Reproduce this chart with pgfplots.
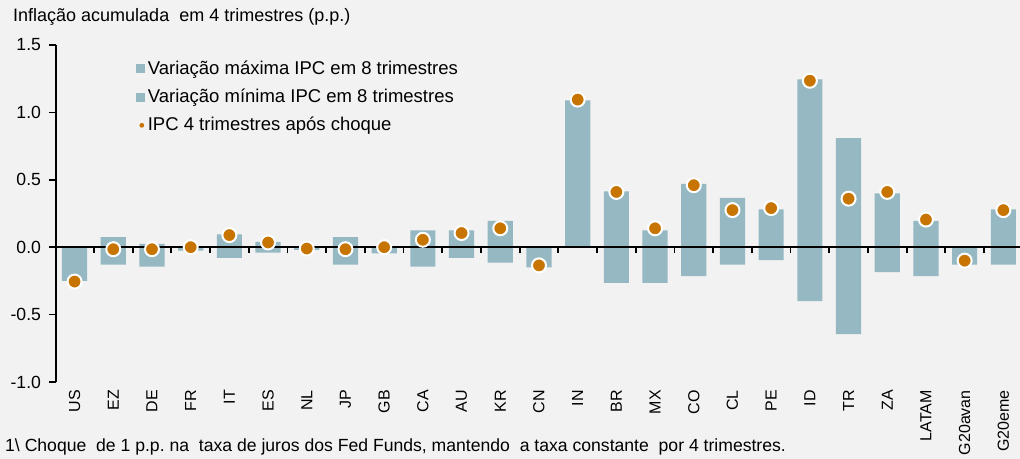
\documentclass[border=0pt]{standalone}
\usepackage{fontspec}
\setmainfont{Liberation Sans}
\usepackage{pgfplots}
\pgfplotsset{compat=1.18}
\usepackage{pgfplotstable}
\usetikzlibrary{backgrounds}
\definecolor{barcol}{HTML}{96B8C3}
\definecolor{dotcol}{HTML}{C87400}
\definecolor{bgcol}{HTML}{F2F2F2}

\pgfplotstableread{
x  mx     mn      dot
0  0.000  -0.250  -0.255
1  0.075  -0.130  -0.015
2  0.025  -0.145  -0.015
3  0.000  -0.025   0.000
4  0.095  -0.080   0.090
5  0.040  -0.040   0.035
6  0.000  -0.020  -0.010
7  0.075  -0.130  -0.015
8  0.005  -0.045   0.000
9  0.125  -0.145   0.055
10 0.125  -0.080   0.105
11 0.195  -0.115   0.140
12 0.000  -0.150  -0.135
13 1.090   0.000   1.095
14 0.415  -0.265   0.410
15 0.125  -0.265   0.140
16 0.470  -0.215   0.460
17 0.365  -0.130   0.275
18 0.280  -0.095   0.290
19 1.245  -0.400   1.235
20 0.810  -0.645   0.360
21 0.400  -0.185   0.410
22 0.195  -0.215   0.205
23 0.000  -0.130  -0.100
24 0.280  -0.130   0.275
}\datatable

\pgfplotsset{
  base/.style={
    scale only axis, width=964pt, height=337pt,
    xmin=-0.48, xmax=24.43, ymin=-1, ymax=1.5,
  }
}
\newcommand{\bigf}{\fontsize{17.6}{21}\selectfont}

\begin{document}
\bigf
\begin{tikzpicture}
% Axis A: bars, y axis, x tick labels, legend
\begin{axis}[base, name=A,
  font=\bigf,
  axis y line=left, axis x line=bottom,
  axis line style={-, line width=1.8pt, black},
  x axis line style={draw=none},
  tick align=outside,
  ytick={-1,-0.5,0,0.5,1,1.5},
  yticklabels={-1.0,-0.5,0.0,0.5,1.0,1.5},
  ytick style={line width=1.6pt, black},
  major tick length=7pt,
  xtick={0,...,24},
  xticklabels={US,EZ,DE,FR,IT,ES,NL,JP,GB,CA,AU,KR,CN,IN,BR,MX,CO,CL,PE,ID,TR,ZA,LATAM,G20avan,G20eme},
  xtick style={draw=none},
  xticklabel style={rotate=90, anchor=east, font=\fontsize{16}{19}\selectfont, inner sep=1pt},
  yticklabel style={xshift=-2pt},
  ybar, bar width=0.65,
  legend cell align=left,
  legend style={at={(0.0795,0.963)}, anchor=north west, draw=none, fill=none,
    font=\fontsize{18.5}{21}\selectfont, row sep=10pt,
    nodes={inner sep=1pt}},
]
\addplot[fill=barcol, draw=none, bar shift=0pt,
  legend image code/.code={\path[draw=none,fill=none] (0pt,-4.5pt) rectangle (11pt,4.5pt); \fill[barcol] (0pt,-4.5pt) rectangle (9pt,4.5pt);}]
  table[x=x, y=mx] {\datatable};
\addlegendentry{Variação máxima IPC em 8 trimestres}
\addplot[fill=barcol, draw=none, bar shift=0pt,
  legend image code/.code={\path[draw=none,fill=none] (0pt,-4.5pt) rectangle (11pt,4.5pt); \fill[barcol] (0pt,-4.5pt) rectangle (9pt,4.5pt);}]
  table[x=x, y=mn] {\datatable};
\addlegendentry{Variação mínima IPC em 8 trimestres}
\addlegendimage{legend image code/.code={\path[draw=none,fill=none] (0pt,-4.5pt) rectangle (11pt,4.5pt); \fill[dotcol,draw=none] (6pt,0pt) circle (2.4pt);}}
\addlegendentry{IPC 4 trimestres após choque}
\end{axis}
% Axis B: zero line with ticks
\begin{axis}[base,
  axis y line=none, axis x line=middle,
  axis line style={-, line width=2.4pt, black},
  xtick={0.5,1.5,...,23.5}, xticklabels={},
  ytick=\empty,
  tick align=outside, major tick length=6pt,
  xtick style={line width=1.8pt, black},
]
\addplot[draw=none] coordinates {(0,0)};
\end{axis}
% Axis C: dots
\begin{axis}[base, hide axis, clip=false]
\addplot[only marks, mark=*, mark size=7pt,
  mark options={fill=dotcol, draw=white, line width=2pt}]
  table[x=x, y=dot] {\datatable};
\end{axis}
\node[anchor=west, inner sep=0pt, font=\fontsize{18}{21}\selectfont] at ([xshift=-43pt,yshift=28pt]A.north west)
  {Inflação acumulada\ \ em 4 trimestres (p.p.)};
\node[anchor=west, inner sep=0pt, font=\fontsize{17.6}{21}\selectfont] at ([xshift=-51pt,yshift=-65pt]A.south west)
  {1\textbackslash\ Choque\ \ de 1 p.p.\ na\ \ taxa\ de juros\ dos\ Fed Funds,\ mantendo\ \ a\ taxa constante\ \ por\ 4 trimestres.};
\pgfresetboundingbox
\path[use as bounding box] ([xshift=-56pt,yshift=45pt]A.north west) rectangle ([yshift=-77pt]A.south east);
\begin{scope}[on background layer]
\fill[bgcol] ([xshift=-56pt,yshift=45pt]A.north west) rectangle ([yshift=-77pt]A.south east);
\end{scope}
\end{tikzpicture}
\end{document}
